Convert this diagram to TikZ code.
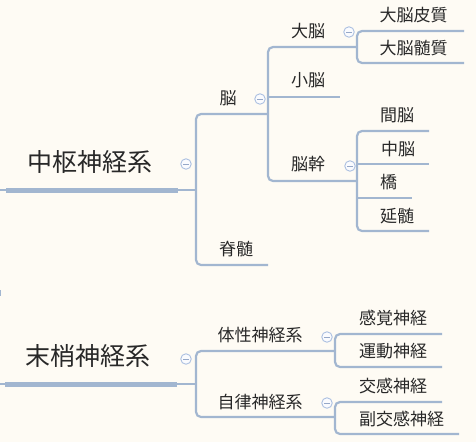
\documentclass[tikz,border=0pt]{standalone}
\usepackage{fontspec}
\setmainfont{Noto Sans CJK JP}
\definecolor{bg}{RGB}{254,251,244}
\definecolor{lc}{RGB}{162,182,208}
\definecolor{tc}{RGB}{40,40,40}
\definecolor{togring}{RGB}{172,192,225}
\definecolor{togfill}{RGB}{250,251,254}
\definecolor{togminus}{RGB}{150,168,200}
\begin{document}
\begin{tikzpicture}[x=1pt,y=-1pt,
  conn/.style={draw=lc, line width=2.2pt, rounded corners=5pt},
  trunk/.style={draw=lc, line width=5pt},
  rootlbl/.style={font=\fontsize{25}{25}\selectfont, text=tc, inner sep=0pt},
  topic/.style={font=\fontsize{17}{17}\selectfont, text=tc, inner sep=0pt},
  tog/.style={circle, draw=togring, fill=togfill, line width=0.9pt, minimum size=10.5pt, inner sep=0pt,
    path picture={\draw[draw=togminus, line width=1pt] ([xshift=-2.6pt]path picture bounding box.center) -- ([xshift=2.6pt]path picture bounding box.center);}}]
\fill[bg] (0,0) rectangle (476,442);
\useasboundingbox (0,0) rectangle (476,442);

% ---------- labels ----------
\node[rootlbl] (cns) at (90,162) {中枢神経系};
\node[topic] (brain) at (228,98) {脳};
\node[topic] (cere) at (308,31) {大脳};
\node[topic] (cb) at (308,80) {小脳};
\node[topic] (stem) at (308,164) {脳幹};
\node[topic] (cort) at (413.5,15) {大脳皮質};
\node[topic] (medu) at (413.5,48) {大脳髄質};
\node[topic] (dien) at (397,115) {間脳};
\node[topic] (midb) at (398,149) {中脳};
\node[topic] (pons) at (388.5,182) {橋};
\node[topic] (oblo) at (397,216) {延髄};
\node[topic] (spin) at (236,249) {脊髄};

\node[rootlbl] (pns) at (88,356) {末梢神経系};
\node[topic] (soma) at (260,335) {体性神経系};
\node[topic] (auto) at (260,402) {自律神経系};
\node[topic] (sens) at (393,318) {感覚神経};
\node[topic] (moto) at (393,351) {運動神経};
\node[topic] (symp) at (393,386) {交感神経};
\node[topic] (para) at (401.5,419.5) {副交感神経};

% ---------- connector points ----------
\coordinate (cnsL) at (0,190);   \coordinate (cnsA) at (6,190);
\coordinate (cnsB) at (178,190); \coordinate (cnsJ) at (196,190);
\coordinate (brainL) at (196,114); \coordinate (brainR) at (268,114);
\coordinate (spinL) at (196,265);  \coordinate (spinR) at (268,265);
\coordinate (cereL) at (268,47);  \coordinate (cereJ) at (357,47);
\coordinate (cbL) at (268,97);    \coordinate (cbR) at (340,97);
\coordinate (stemL) at (268,181); \coordinate (stemJ) at (357,181);
\coordinate (cortL) at (357,31);  \coordinate (cortR) at (464,31);
\coordinate (meduL) at (357,63);  \coordinate (meduR) at (464,63);
\coordinate (dienL) at (357,131); \coordinate (dienR) at (429,131);
\coordinate (midbL) at (357,164); \coordinate (midbR) at (429,164);
\coordinate (ponsL) at (357,198); \coordinate (ponsR) at (412,198);
\coordinate (obloL) at (357,231); \coordinate (obloR) at (429,231);

\coordinate (pnsL) at (0,384);   \coordinate (pnsA) at (5,384);
\coordinate (pnsB) at (177,384); \coordinate (pnsJ) at (196,384);
\coordinate (somaL) at (196,351); \coordinate (somaJ) at (335,351);
\coordinate (autoL) at (196,417); \coordinate (autoJ) at (335,417);
\coordinate (sensL) at (335,334); \coordinate (sensR) at (442,334);
\coordinate (motoL) at (335,367); \coordinate (motoR) at (442,367);
\coordinate (sympL) at (335,402); \coordinate (sympR) at (442,402);
\coordinate (paraL) at (335,434); \coordinate (paraR) at (459,434);
\coordinate (markT) at (0.6,290); \coordinate (markB) at (0.6,296);

% ---------- connectors ----------
\draw[conn] (cnsL) -- (cnsA);
\draw[conn] (cnsB) -- (cnsJ);
\draw[trunk] (cnsA) -- (cnsB);
\draw[conn] (brainR) -- (brainL) -- (spinL) -- (spinR);
\draw[conn] (cereJ) -- (cereL) -- (stemL) -- (stemJ);
\draw[conn] (cbL) -- (cbR);
\draw[conn] (cortR) -- (cortL) -- (meduL) -- (meduR);
\draw[conn] (dienR) -- (dienL) -- (obloL) -- (obloR);
\draw[conn] (midbL) -- (midbR);
\draw[conn] (ponsL) -- (ponsR);

\draw[conn] (pnsL) -- (pnsA);
\draw[conn] (pnsB) -- (pnsJ);
\draw[trunk] (pnsA) -- (pnsB);
\draw[conn] (somaJ) -- (somaL) -- (autoL) -- (autoJ);
\draw[conn] (sensR) -- (sensL) -- (motoL) -- (motoR);
\draw[conn] (sympR) -- (sympL) -- (paraL) -- (paraR);
\draw[draw=lc, line width=1.4pt] (markT) -- (markB);

% ---------- collapse toggles ----------
\node[tog] (t1) at (186,164) {};
\node[tog] (t2) at (260,99) {};
\node[tog] (t3) at (349,32) {};
\node[tog] (t4) at (350,166) {};
\node[tog] (t5) at (186,359) {};
\node[tog] (t6) at (327,337) {};
\node[tog] (t7) at (327,403) {};
\end{tikzpicture}
\end{document}
